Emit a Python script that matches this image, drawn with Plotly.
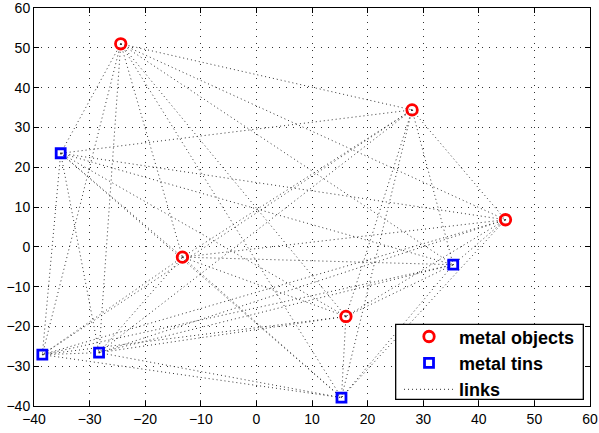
import plotly.graph_objects as go
import itertools

obj_x = [-24.4, 28.0, 44.8, -13.3, 16.1]
obj_y = [51.0, 34.4, 6.8, -2.6, -17.5]
tin_x = [-35.2, 35.4, -38.5, -28.3, 15.3]
tin_y = [23.5, -4.5, -27.1, -26.6, -37.9]

x_ticks = list(range(-40, 61, 10))
y_ticks = list(range(-40, 61, 10))

all_x = obj_x + tin_x
all_y = obj_y + tin_y
lx, ly = [], []
for i, j in itertools.combinations(range(len(all_x)), 2):
    lx += [all_x[i], all_x[j], None]
    ly += [all_y[i], all_y[j], None]

fig = go.Figure()
fig.add_trace(go.Scatter(x=lx, y=ly, mode="lines", name="<b>links</b>", legendrank=3,
                         line=dict(color="#333333", width=1, dash="1px,3px")))
fig.add_trace(go.Scatter(x=obj_x, y=obj_y, mode="markers", name="<b>metal objects</b>",
                         legendrank=1,
                         marker=dict(symbol="circle-open", size=10.5, color="red",
                                     line=dict(width=2.8, color="red"))))
fig.add_trace(go.Scatter(x=tin_x, y=tin_y, mode="markers", name="<b>metal tins</b>",
                         legendrank=2,
                         marker=dict(symbol="square-open", size=9, color="blue",
                                     line=dict(width=2.8, color="blue"))))

axis_common = dict(showline=True, linecolor="black", linewidth=1, mirror="ticks",
                   ticks="inside", ticklen=5, tickcolor="black", automargin=False,
                   ticklabeloverflow="allow",
                   showgrid=True, gridcolor="#333333", griddash="1px,6px", gridwidth=1,
                   zeroline=False, tickfont=dict(family="Liberation Sans", size=14, color="black"))

# legend frame drawn as a white box behind the (transparent) legend
fig.add_shape(type="rect", xref="paper", yref="paper",
              x0=0.6505, x1=0.988, y0=0.0168, y1=0.2053,
              fillcolor="white", line=dict(color="black", width=1.3), layer="above")

fig.update_layout(
    width=599, height=433,
    margin=dict(l=34, r=9, t=8, b=27),
    plot_bgcolor="white", paper_bgcolor="white",
    showlegend=True,
    legend=dict(x=0.6565, y=0.2203, xanchor="left", yanchor="top",
                borderwidth=0, bgcolor="rgba(0,0,0,0)",
                traceorder="normal", itemwidth=50,
                font=dict(family="Liberation Sans", size=18, color="black")),
    xaxis=dict(range=[-40, 60], tickvals=x_ticks, **axis_common),
    yaxis=dict(range=[-40, 60], tickvals=y_ticks, **axis_common),
)
fig.write_html("out.html")
